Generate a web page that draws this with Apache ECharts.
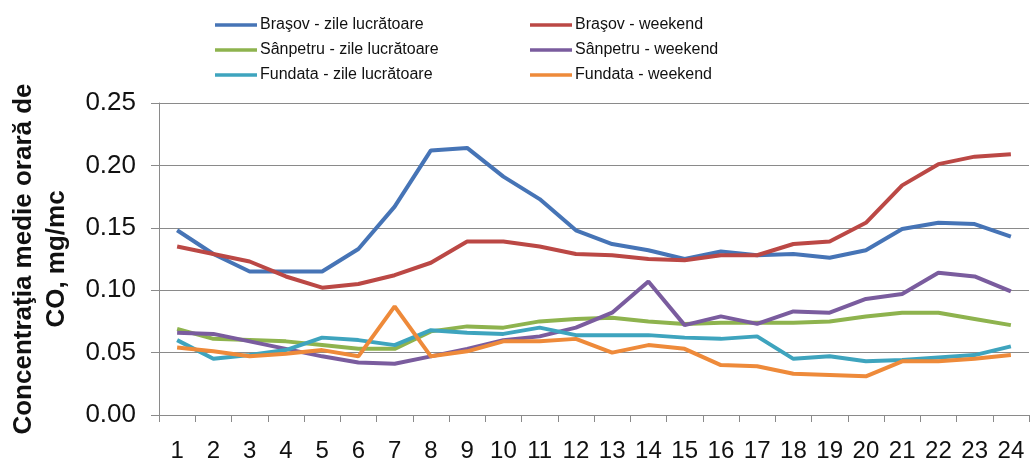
<!DOCTYPE html>
<html>
<head>
<meta charset="utf-8">
<title>Concentraţia medie orară de CO</title>
<script src="https://cdn.jsdelivr.net/npm/echarts@6/dist/echarts.min.js"></script>
<style>
	html, body { margin: 0; padding: 0; background: #fff; }
	#chart { width: 1030px; height: 459px; }
</style>
</head>
<body>
<div id="chart"></div>
<script>
// ore (x axis categories)
var hours = ['1','2','3','4','5','6','7','8','9','10','11','12','13','14','15','16','17','18','19','20','21','22','23','24'];

// tick labels on the y axis
var yTicks = [0.00, 0.05, 0.10, 0.15, 0.20, 0.25];

// values, mg/mc
var brasovZile = [0.148, 0.129, 0.115, 0.115, 0.115, 0.133, 0.167, 0.212, 0.214, 0.191, 0.173, 0.148, 0.137, 0.132, 0.125, 0.131, 0.128, 0.129, 0.126, 0.132, 0.149, 0.154, 0.153, 0.143];
var brasovWeekend = [0.135, 0.129, 0.123, 0.111, 0.102, 0.105, 0.112, 0.122, 0.139, 0.139, 0.135, 0.129, 0.128, 0.125, 0.124, 0.128, 0.128, 0.137, 0.139, 0.154, 0.184, 0.201, 0.207, 0.209];
var sanpetruZile = [0.069, 0.061, 0.060, 0.059, 0.056, 0.053, 0.053, 0.067, 0.071, 0.070, 0.075, 0.077, 0.078, 0.075, 0.073, 0.074, 0.074, 0.074, 0.075, 0.079, 0.082, 0.082, 0.077, 0.072];
var sanpetruWeekend = [0.066, 0.065, 0.059, 0.053, 0.047, 0.042, 0.041, 0.047, 0.053, 0.060, 0.063, 0.070, 0.082, 0.107, 0.072, 0.079, 0.073, 0.083, 0.082, 0.093, 0.097, 0.114, 0.111, 0.099];
var fundataZile = [0.060, 0.045, 0.048, 0.052, 0.062, 0.060, 0.056, 0.068, 0.066, 0.065, 0.070, 0.064, 0.064, 0.064, 0.062, 0.061, 0.063, 0.045, 0.047, 0.043, 0.044, 0.046, 0.048, 0.055];
var fundataWeekend = [0.054, 0.051, 0.047, 0.049, 0.052, 0.047, 0.087, 0.047, 0.051, 0.059, 0.059, 0.061, 0.050, 0.056, 0.053, 0.040, 0.039, 0.033, 0.032, 0.031, 0.043, 0.043, 0.045, 0.048];

// legend names, two columns
var namesLeft = ['Braşov - zile lucrătoare', 'Sânpetru - zile lucrătoare', 'Fundata - zile lucrătoare'];
var namesRight = ['Braşov - weekend', 'Sânpetru - weekend', 'Fundata - weekend'];

var axisGray = '#8a8a8a';
var fontName = 'Liberation Sans, Arial, sans-serif';

function makeLine(name, data, color) {//one line series
	return {
		name: name,
		type: 'line',
		data: data,
		symbol: 'none',
		smooth: false,
		lineStyle: { width: 4, color: color },
		itemStyle: { color: color },
		z: 3
	};
}

function makeLegend(names, left) {//one legend column
	return {
		orient: 'vertical',
		left: left,
		top: 12,
		data: names,
		itemWidth: 42,
		itemHeight: 14,
		itemGap: 9,
		selectedMode: false,
		icon: 'path://M0,5.5 L42,5.5 L42,9 L0,9 Z',
		textStyle: { fontFamily: fontName, fontSize: 16, color: '#111', padding: [0, 0, 0, -2] }
	};
}

var series = [
	makeLine(namesLeft[0], brasovZile, '#4674B6'),
	makeLine(namesRight[0], brasovWeekend, '#BB4845'),
	makeLine(namesLeft[1], sanpetruZile, '#8EB34E'),
	makeLine(namesRight[1], sanpetruWeekend, '#7A5C9E'),
	makeLine(namesLeft[2], fundataZile, '#3EA4BE'),
	makeLine(namesRight[2], fundataWeekend, '#EE8A3A')
];

var dom = document.getElementById('chart');
var myChart = echarts.init(dom, null, { renderer: 'canvas' });

var option = {
	backgroundColor: '#fff',
	animation: false,
	legend: [makeLegend(namesLeft, 210), makeLegend(namesRight, 525)],
	grid: { left: 159, right: 1, top: 103, bottom: 44, containLabel: false, outerBoundsMode: 'none' },
	xAxis: {
		type: 'category',
		data: hours,
		boundaryGap: true,
		axisLine: { show: true, lineStyle: { color: axisGray, width: 1 } },
		axisTick: { show: true, length: 7, inside: false, lineStyle: { color: axisGray } },
		axisLabel: { fontFamily: fontName, fontSize: 24, color: '#111', margin: 24, interval: 0 },
		splitLine: { show: false }
	},
	yAxis: {
		type: 'value',
		min: yTicks[0],
		max: yTicks[yTicks.length - 1],
		interval: yTicks[1] - yTicks[0],
		name: 'Concentraţia medie orară de\nCO, mg/mc',
		nameLocation: 'middle',
		nameGap: 86,
		nameTextStyle: { fontFamily: fontName, fontSize: 26, fontWeight: 'bold', color: '#111', lineHeight: 33 },
		axisLine: { show: true, lineStyle: { color: axisGray, width: 1 } },
		axisTick: { show: true, length: 8, inside: false, lineStyle: { color: axisGray } },
		axisLabel: {
			fontFamily: fontName, fontSize: 26, color: '#111', margin: 23,
			formatter: function(v) { return v.toFixed(2); }
		},
		splitLine: { show: true, lineStyle: { color: axisGray, width: 1 } }
	},
	series: series
};

if(option && typeof option === 'object') {
	myChart.setOption(option, true);
}
</script>
</body>
</html>
